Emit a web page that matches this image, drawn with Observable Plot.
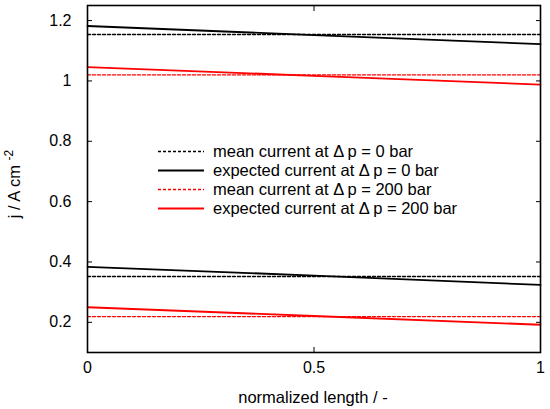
<!DOCTYPE html>
<html>
<head>
<meta charset="utf-8">
<script src="https://cdn.jsdelivr.net/npm/d3@7"></script>
<script src="https://cdn.jsdelivr.net/npm/@observablehq/plot@0.6"></script>
<style>
  body { margin: 0; background: #fff; }
  #wrap { position: relative; width: 550px; height: 409px; font-family: "Liberation Sans", Arial, sans-serif; }
  #legend { position: absolute; left: 158px; top: 142px; font-size: 16.5px; color: #000; }
  .row { display: flex; align-items: center; height: 19px; }
  .row svg { width: 46px; height: 19px; margin-right: 9px; }
</style>
</head>
<body>
<div id="wrap"></div>
<script>
const positions = [0, 0.5, 1];
const meanHigh0 = [1.154, 1.154, 1.154];
const expHigh0 = [1.182, 1.152, 1.122];
const meanHigh200 = [1.02, 1.02, 1.02];
const expHigh200 = [1.046, 1.017, 0.988];
const meanLow0 = [0.352, 0.352, 0.352];
const expLow0 = [0.384, 0.355, 0.324];
const meanLow200 = [0.219, 0.219, 0.219];
const expLow200 = [0.25, 0.221, 0.192];
const yTicks = [0.2, 0.4, 0.6, 0.8, 1.0, 1.2];
const xTicks = [0, 0.5, 1];
const legendLabels = [
  "mean current at \u0394\u2009p = 0 bar",
  "expected current at \u0394\u2009p = 0 bar",
  "mean current at \u0394\u2009p = 200 bar",
  "expected current at \u0394\u2009p = 200 bar"
];
const xLabel = "normalized length / -";

const toRows = (arr) => positions.map((x, i) => ({x, y: arr[i]}));
const black = "#000000", red = "#ff0000";
const dash = "3,2";

const styles = [
  {color: black, dashed: true},
  {color: black, dashed: false},
  {color: red, dashed: true},
  {color: red, dashed: false}
];

function line(arr, st) {
  return Plot.line(toRows(arr), {
    x: "x", y: "y", stroke: st.color,
    strokeWidth: st.dashed ? 1.4 : 1.8,
    strokeDasharray: st.dashed ? dash : null
  });
}

const fmt = d => String(+(+d).toFixed(1));

const chart = Plot.plot({
  width: 550,
  height: 409,
  marginLeft: 87,
  marginRight: 10,
  marginTop: 5,
  marginBottom: 57,
  style: {fontFamily: "'Liberation Sans', Arial, sans-serif", fontSize: "16px", background: "#fff", color: "#000"},
  x: {domain: [0, 1]},
  y: {domain: [0.1, 1.25]},
  marks: [
    line(meanHigh0, styles[0]),
    line(expHigh0, styles[1]),
    line(meanHigh200, styles[2]),
    line(expHigh200, styles[3]),
    line(meanLow0, styles[0]),
    line(expLow0, styles[1]),
    line(meanLow200, styles[2]),
    line(expLow200, styles[3]),
    Plot.axisY(yTicks, {anchor: "left", tickSize: -5, tickPadding: 21, tickFormat: fmt, label: null, fontSize: 16}),
    Plot.axisY(yTicks, {anchor: "right", tickSize: -5, fill: "none", label: null}),
    Plot.axisX(xTicks, {anchor: "bottom", tickSize: -5, tickPadding: 14, tickFormat: fmt, label: null, fontSize: 16}),
    Plot.axisX(xTicks, {anchor: "top", tickSize: -5, fill: "none", label: null}),
    Plot.frame({stroke: black, strokeWidth: 1.6})
  ]
});

const wrap = document.getElementById("wrap");
wrap.appendChild(chart);

// axis titles
const svg = d3.select(chart);
svg.append("text")
  .attr("x", 313).attr("y", 403)
  .attr("text-anchor", "middle")
  .attr("font-size", 16.5)
  .attr("fill", black)
  .text(xLabel);

const yl = svg.append("text")
  .attr("transform", "translate(20,184) rotate(-90)")
  .attr("text-anchor", "middle")
  .attr("font-size", 16.5)
  .attr("fill", black);
yl.append("tspan").text("j / A cm ");
yl.append("tspan").attr("font-size", 12).attr("dy", -7).text("-2");

// legend
const legend = document.createElement("div");
legend.id = "legend";
legendLabels.forEach((lab, i) => {
  const st = styles[i];
  const row = document.createElement("div");
  row.className = "row";
  row.innerHTML = `<svg viewBox="0 0 46 19"><line x1="0" x2="46" y1="9.5" y2="9.5" stroke="${st.color}" stroke-width="${st.dashed ? 1.4 : 1.8}" ${st.dashed ? `stroke-dasharray="${dash}"` : ""}/></svg><span>${lab}</span>`;
  legend.appendChild(row);
});
wrap.appendChild(legend);
</script>
</body>
</html>
